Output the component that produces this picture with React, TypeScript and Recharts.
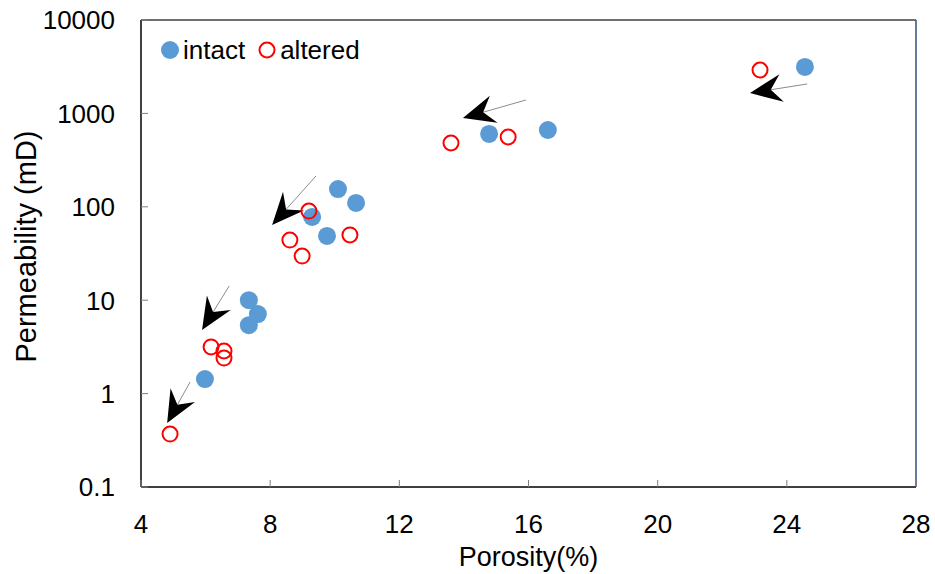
import React from 'react';
import { ScatterChart, Scatter, XAxis, YAxis, ReferenceLine, Label } from 'recharts';

const intactPorosity = [24.56, 16.6, 14.78, 10.1, 10.66, 9.3, 9.76, 7.34, 7.62, 7.34, 5.98];
const intactPerm = [3140, 664, 603, 155, 110, 78, 48.7, 10, 7.1, 5.4, 1.43];
const alteredPorosity = [23.17, 15.37, 13.6, 9.2, 8.61, 10.47, 8.99, 6.17, 6.57, 6.57, 4.9];
const alteredPerm = [2915, 559, 482, 90, 44, 50, 29.7, 3.16, 2.86, 2.4, 0.369];

// arrows: from (tail) -> to (tip)
const arrowFromPorosity = [24.63, 15.92, 9.42, 6.73, 5.52];
const arrowFromPerm = [2065, 1391, 214, 14.2, 1.33];
const arrowToPorosity = [22.86, 13.97, 8.06, 5.89, 4.81];
const arrowToPerm = [1653, 893, 63.8, 4.8, 0.484];

const xTicks = [4, 8, 12, 16, 20, 24, 28];
const yTicks = [0.1, 1, 10, 100, 1000, 10000];

const intactData = intactPorosity.map((x, i) => ({ x, y: intactPerm[i] }));
const alteredData = alteredPorosity.map((x, i) => ({ x, y: alteredPerm[i] }));

const FONT = '"Liberation Sans", Arial, sans-serif';
const TICK_GAP = 26;

const YTick = (props: any) => {
  const { x, y, payload } = props;
  const ax = x + TICK_GAP;
  return (
    <g>
      <line x1={ax} y1={y} x2={ax + 7} y2={y} stroke="#808080" strokeWidth={1} />
      <text x={x} y={y} dy="0.36em" textAnchor="end" fontFamily={FONT} fontSize={26} fill="#000">
        {payload.value}
      </text>
    </g>
  );
};

const XTick = (props: any) => {
  const { x, y, payload } = props;
  const ay = y - 28;
  return (
    <g>
      <line x1={x} y1={ay} x2={x} y2={ay - 7} stroke="#808080" strokeWidth={1} />
      <text x={x} y={y} dy="0.71em" textAnchor="middle" fontFamily={FONT} fontSize={26} fill="#000">
        {payload.value}
      </text>
    </g>
  );
};

const Arrow = (props: any) => {
  const { x1, y1, x2, y2 } = props;
  const dx = x2 - x1;
  const dy = y2 - y1;
  const len = Math.hypot(dx, dy) || 1;
  const ux = dx / len;
  const uy = dy / len;
  const px = -uy;
  const py = ux;
  const bx = x2 - 32 * ux;
  const by = y2 - 32 * uy;
  const nx = x2 - 21 * ux;
  const ny = y2 - 21 * uy;
  const pts = [
    [x2, y2],
    [bx + 14 * px, by + 14 * py],
    [nx, ny],
    [bx - 14 * px, by - 14 * py],
  ]
    .map((p) => p.join(','))
    .join(' ');
  return (
    <g>
      <line x1={x1} y1={y1} x2={nx} y2={ny} stroke="#8c8c8c" strokeWidth={1} />
      <polygon points={pts} fill="#000" />
    </g>
  );
};

const LegendBox = () => (
  <div
    style={{
      position: 'absolute',
      top: 34,
      left: 160,
      display: 'flex',
      alignItems: 'center',
      fontFamily: FONT,
      fontSize: 26,
      color: '#000',
      lineHeight: '32px',
    }}
  >
    <svg width={20} height={20}>
      <circle cx={10} cy={10} r={9} fill="#5B9BD5" />
    </svg>
    <span style={{ marginLeft: 3 }}>intact</span>
    <svg width={20} height={20} style={{ marginLeft: 12 }}>
      <circle cx={10} cy={10} r={7.5} fill="none" stroke="#FF0000" strokeWidth={2} />
    </svg>
    <span style={{ marginLeft: 3 }}>altered</span>
  </div>
);

export default function App() {
  return (
    <div style={{ position: 'relative', width: 935, height: 574, background: '#fff' }}>
      <style>{`body{margin:0;}`}</style>
      <ScatterChart width={935} height={574} margin={{ top: 20, right: 19, bottom: 0, left: 0 }}>
        <XAxis
          type="number"
          dataKey="x"
          domain={[4, 28]}
          ticks={xTicks}
          interval={0}
          height={87}
          tickSize={0}
          tickMargin={28}
          tick={<XTick />}
          axisLine={{ stroke: '#000', strokeWidth: 1.5 }}
          tickLine={false}
        >
          <Label
            content={({ viewBox }: any) => (
              <text
                x={viewBox.x + viewBox.width / 2}
                y={viewBox.y + 79}
                textAnchor="middle"
                fontFamily={FONT}
                fontSize={27}
                fill="#000"
              >
                Porosity(%)
              </text>
            )}
          />
        </XAxis>
        <YAxis
          type="number"
          dataKey="y"
          scale="log"
          domain={[0.1, 10000]}
          ticks={yTicks}
          interval={0}
          allowDataOverflow
          width={141}
          tickSize={0}
          tickMargin={TICK_GAP}
          tick={<YTick />}
          axisLine={{ stroke: '#000', strokeWidth: 1.5 }}
          tickLine={false}
        >
          <Label
            content={({ viewBox }: any) => {
              const cx = viewBox.x + 36;
              const cy = viewBox.y + viewBox.height / 2 - 7;
              return (
                <text
                  x={cx}
                  y={cy}
                  transform={`rotate(-90, ${cx}, ${cy})`}
                  textAnchor="middle"
                  fontFamily={FONT}
                  fontSize={29}
                  fill="#000"
                >
                  Permeability (mD)
                </text>
              );
            }}
          />
        </YAxis>
        <ReferenceLine y={10000} stroke="#404040" strokeWidth={1.5} />
        <ReferenceLine x={28} stroke="#2f4f7f" strokeWidth={1.5} />
        {arrowFromPorosity.map((fx, i) => (
          <ReferenceLine
            key={i}
            segment={[
              { x: fx, y: arrowFromPerm[i] },
              { x: arrowToPorosity[i], y: arrowToPerm[i] },
            ]}
            shape={(p: any) => <Arrow {...p} />}
          />
        ))}
        <Scatter
          name="intact"
          data={intactData}
          isAnimationActive={false}
          shape={(p: any) => <circle cx={p.cx} cy={p.cy} r={9} fill="#5B9BD5" />}
        />
        <Scatter
          name="altered"
          data={alteredData}
          isAnimationActive={false}
          shape={(p: any) => <circle cx={p.cx} cy={p.cy} r={7.5} fill="none" stroke="#FF0000" strokeWidth={2} />}
        />
      </ScatterChart>
      <LegendBox />
    </div>
  );
}
